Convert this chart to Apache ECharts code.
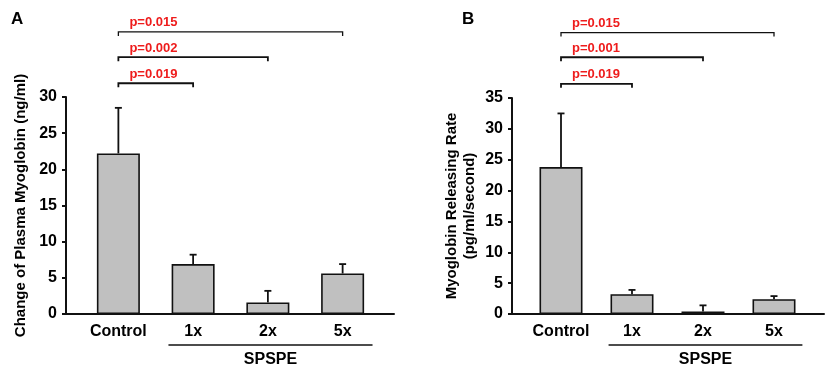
<!DOCTYPE html>
<html>
<head>
<meta charset="utf-8">
<script src="https://cdn.jsdelivr.net/npm/echarts@6/dist/echarts.min.js"></script>
<style>
  html, body { margin: 0; padding: 0; background: #fff; }
  #chart { width: 829px; height: 375px; }
</style>
</head>
<body>
<div id="chart"></div>
<script>
// data
const categories = ['Control', '1x', '2x', '5x'];
const groupLabel = 'SPSPE';
const groupSpan = [0.67, 3.4];   // category-index range of the SPSPE underline

// panel A: change of plasma myoglobin (ng/ml)
const meanA = [22.2, 6.9, 1.6, 5.6];
const errTopA = [28.5, 8.2, 3.2, 6.9];
const ticksA = { min: 0, max: 30, interval: 5 };
const bracketsA = [[0, 1, 31.9], [0, 2, 35.5], [0, 3, 39.0]];
const pLabelsA = ['p=0.019', 'p=0.002', 'p=0.015'];

// panel B: myoglobin releasing rate (pg/ml/second)
const meanB = [23.8, 3.2, 0.4, 2.4];
const errTopB = [32.5, 3.9, 1.4, 2.9];
const ticksB = { min: 0, max: 35, interval: 5 };
const bracketsB = [[0, 1, 37.3], [0, 2, 41.6], [0, 3, 45.6]];
const pLabelsB = ['p=0.019', 'p=0.001', 'p=0.015'];

const FONT = '"Liberation Sans", Arial, sans-serif';
const INK = '#111';
const RED = '#ee1c1c';

function buildPanel(p) {
    // p.wide: grid incl. the full axis line; p.narrow: grid holding the bars
    const g = p.gridBase;
    const grids = [p.wide, p.narrow];
    const xAxes = [
        { gridIndex: g, type: 'value', min: 0, max: 1, axisLine: { show: true, lineStyle: { color: INK, width: 2 } },
          axisTick: { show: false }, axisLabel: { show: false }, splitLine: { show: false } },
        { gridIndex: g + 1, type: 'category', data: categories, axisLine: { show: false }, axisTick: { show: false },
          axisLabel: { interval: 0, color: '#000', fontFamily: FONT, fontWeight: 'bold', fontSize: 16, margin: 10 } },
        { gridIndex: g + 1, type: 'value', min: -0.5, max: 3.5, show: false }
    ];
    const yAxes = [
        { gridIndex: g, type: 'value', min: p.ticks.min, max: p.ticks.max, interval: p.ticks.interval,
          name: p.name, nameLocation: 'middle', nameRotate: 90, nameGap: p.nameGap,
          nameTextStyle: { color: '#000', fontFamily: FONT, fontWeight: 'bold', fontSize: 15, lineHeight: 18 },
          axisLine: { show: true, lineStyle: { color: INK, width: 2 } },
          axisTick: { show: true, length: 4, lineStyle: { color: INK, width: 2 } },
          axisLabel: { color: '#000', fontFamily: FONT, fontWeight: 'bold', fontSize: 16, margin: 9 },
          splitLine: { show: false } },
        { gridIndex: g + 1, type: 'value', min: p.ticks.min, max: p.ticks.max, show: false }
    ];
    const xo = p.axisBase, yo = p.yBase;
    const series = [
        {
            type: 'bar', xAxisIndex: xo + 1, yAxisIndex: yo + 1, data: p.mean, barWidth: 43,
            itemStyle: { color: '#c0c0c0', borderColor: INK, borderWidth: 1.6 }, z: 2
        },
        {
            type: 'custom', xAxisIndex: xo + 2, yAxisIndex: yo + 1,
            data: p.mean.map((m, i) => [i, m, p.errTop[i]]),
            renderItem: (params, api) => {
                const a = api.coord([api.value(0), api.value(1)]);
                const b = api.coord([api.value(0), api.value(2)]);
                return { type: 'group', children: [
                    { type: 'line', shape: { x1: a[0], y1: a[1], x2: b[0], y2: b[1] }, style: { stroke: INK, lineWidth: 1.8 } },
                    { type: 'line', shape: { x1: b[0] - 3.5, y1: b[1], x2: b[0] + 3.5, y2: b[1] }, style: { stroke: INK, lineWidth: 1.8 } }
                ] };
            }, z: 3
        },
        {
            type: 'custom', xAxisIndex: xo + 2, yAxisIndex: yo + 1, clip: false,
            data: p.brackets,
            renderItem: (params, api) => {
                const a = api.coord([api.value(0), api.value(2)]);
                const b = api.coord([api.value(1), api.value(2)]);
                return { type: 'group', children: [
                    { type: 'polyline', shape: { points: [[a[0], a[1] + 4], a, b, [b[0], b[1] + 4]] },
                      style: { stroke: INK, lineWidth: params.dataIndex === 2 ? 1.3 : 1.8, fill: null } },
                    { type: 'text', x: a[0] + 11, y: a[1] - 9,
                      style: { text: p.pLabels[params.dataIndex], fill: RED, font: 'bold 13px ' + FONT,
                               verticalAlign: 'middle', align: 'left' } }
                ] };
            }
        },
        {
            type: 'custom', xAxisIndex: xo + 2, yAxisIndex: yo + 1, clip: false,
            data: [[groupSpan[0], groupSpan[1]]],
            renderItem: (params, api) => {
                const a = api.coord([api.value(0), 0]);
                const b = api.coord([api.value(1), 0]);
                return { type: 'group', children: [
                    { type: 'line', shape: { x1: a[0], y1: a[1] + 31, x2: b[0], y2: b[1] + 31 }, style: { stroke: INK, lineWidth: 1.3 } },
                    { type: 'text', x: (a[0] + b[0]) / 2, y: a[1] + 46,
                      style: { text: groupLabel, fill: '#000', font: 'bold 16px ' + FONT, align: 'center', verticalAlign: 'middle' } }
                ] };
            }
        }
    ];
    return { grids, xAxes, yAxes, series };
}

const panelA = buildPanel({
    gridBase: 0, axisBase: 0, yBase: 0,
    wide: { left: 66, width: 328, top: 97, height: 217 },
    narrow: { left: 81, width: 299, top: 97, height: 217 },
    mean: meanA, errTop: errTopA, ticks: ticksA, brackets: bracketsA, pLabels: pLabelsA,
    name: 'Change of Plasma Myoglobin (ng/ml)', nameGap: 36
});
const panelB = buildPanel({
    gridBase: 2, axisBase: 3, yBase: 2,
    wide: { left: 512, width: 312, top: 98, height: 216 },
    narrow: { left: 525.5, width: 284, top: 98, height: 216 },
    mean: meanB, errTop: errTopB, ticks: ticksB, brackets: bracketsB, pLabels: pLabelsB,
    name: 'Myoglobin Releasing Rate\n(pg/ml/second)', nameGap: 33
});

const chart = echarts.init(document.getElementById('chart'), null, { renderer: 'canvas' });
chart.setOption({
    animation: false,
    backgroundColor: '#fff',
    title: [
        { text: 'A', left: 6, top: 6, textStyle: { fontFamily: FONT, fontWeight: 'bold', fontSize: 17, color: '#000' } },
        { text: 'B', left: 457, top: 6, textStyle: { fontFamily: FONT, fontWeight: 'bold', fontSize: 17, color: '#000' } }
    ],
    grid: panelA.grids.concat(panelB.grids),
    xAxis: panelA.xAxes.concat(panelB.xAxes),
    yAxis: panelA.yAxes.concat(panelB.yAxes),
    series: panelA.series.concat(panelB.series)
});
</script>
</body>
</html>
